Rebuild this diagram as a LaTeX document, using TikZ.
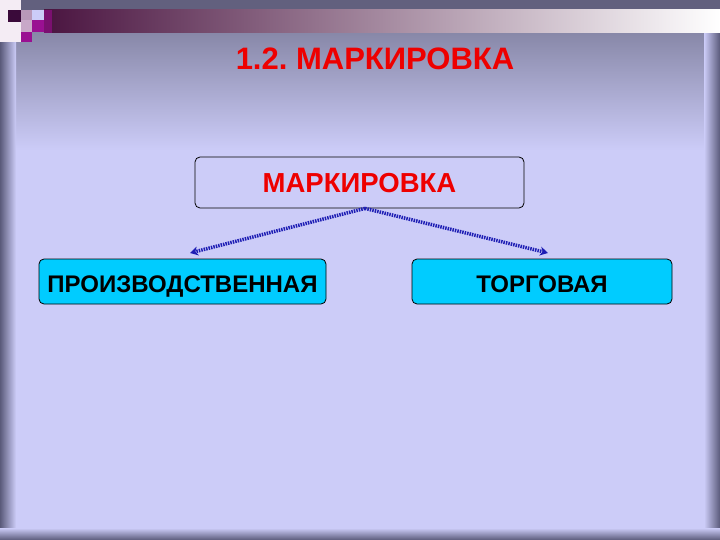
\documentclass[tikz,border=0pt]{standalone}
\usepackage{fontspec}
\setmainfont{Liberation Sans}
\usetikzlibrary{arrows.meta}
\frenchspacing
\definecolor{lav}{HTML}{CCCCF8}
\definecolor{topgray}{HTML}{8686A6}
\definecolor{edge}{HTML}{5A5A7A}
\definecolor{barpurple}{HTML}{4A1440}
\definecolor{barmid}{HTML}{B4A8B6}
\definecolor{boxcyan}{HTML}{00CCFF}
\definecolor{arrblue}{HTML}{1E1EB4}
\definecolor{titlered}{HTML}{EE0000}
\definecolor{stripgray}{HTML}{62607E}
\definecolor{cornerwhite}{HTML}{F4ECF4}
\definecolor{sqdark}{HTML}{3A0A3A}
\definecolor{sqpink}{HTML}{B898B8}
\definecolor{sqlight}{HTML}{C8A8C8}
\definecolor{sqmag}{HTML}{9A1092}
\definecolor{sqmag2}{HTML}{7A1070}
\tikzset{
  base/.style={draw=black, line width=0.8pt, rounded corners=5pt, inner sep=0pt, align=center, text height=21pt, text depth=0pt},
  topbox/.style={base, minimum width=329pt, minimum height=51pt, text=titlered, font=\bfseries\fontsize{27.5}{32}\selectfont},
  subbox/.style={base, fill=boxcyan, minimum height=45pt, text=black, font=\bfseries\fontsize{24}{28}\selectfont},
  conn/.style={arrblue, line width=3.5pt, dash pattern=on 1.5pt off 1pt, -{Stealth[length=8pt,width=9pt]}}
}
\begin{document}
\begin{tikzpicture}[x=1pt,y=-1pt]
\useasboundingbox (0,0) rectangle (720,540);
% background
\fill[lav] (0,0) rectangle (720,540);
\shade[top color=topgray, bottom color=lav] (0,30) rectangle (720,150);
\shade[left color=edge, right color=lav] (0,0) rectangle (16,540);
\shade[left color=lav, right color=edge] (704,0) rectangle (720,540);
\shade[top color=lav, bottom color=edge] (0,528) rectangle (720,540);
% top strip
\fill[stripgray] (0,0) rectangle (720,10);
\shade[left color=barpurple, middle color=barmid, right color=white] (44,10) rectangle (720,33);
\fill[cornerwhite] (0,0) rectangle (21,42);
\fill[sqdark] (8,10) rectangle (21,22);
\fill[sqpink] (21,10) rectangle (32,20);
\fill[sqlight] (21,20) rectangle (32,32);
\fill[sqmag] (32,20) rectangle (44,32);
\fill[sqmag] (21,32) rectangle (32,42);
\fill[sqmag2] (44,10) rectangle (52,33);
% title
\node[text=titlered, font=\bfseries\fontsize{31}{36}\selectfont, inner sep=0pt, text height=22pt, text depth=0pt] (title) at (375,59) {1.2. МАРКИРОВКА};
% boxes
\node[topbox] (mark) at (359.5,182.5) {МАРКИРОВКА};
\node[subbox, minimum width=287pt] (prod) at (182.5,281.5) {ПРОИЗВОДСТВЕННАЯ};
\node[subbox, minimum width=260pt] (torg) at (542,281.5) {ТОРГОВАЯ};
% connectors
\coordinate (ls) at (190,253);
\coordinate (rs) at (548,253);
\draw[conn] ([xshift=5.5pt]mark.south) -- (ls);
\draw[conn] ([xshift=5.5pt]mark.south) -- (rs);
\end{tikzpicture}
\end{document}
